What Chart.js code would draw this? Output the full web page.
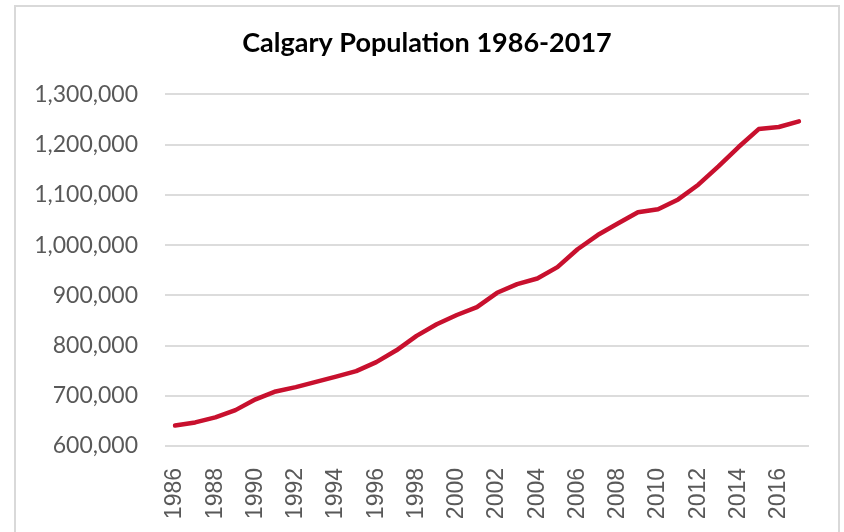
<!DOCTYPE html>
<html lang="en">

<head>
    <meta charset="UTF-8">
    <title>Calgary Population 1986-2017</title>
    <script src="https://cdn.jsdelivr.net/npm/chart.js"></script>
    <style>
        body {
            margin: 0;
            background: #ffffff;
        }

        .frame {
            position: absolute;
            left: 14px;
            top: 5px;
            width: 822px;
            height: 540px;
            border: 2px solid #d9d9d9;
        }

        #popChart {
            position: absolute;
            left: 0;
            top: 0;
        }
    </style>
</head>

<body>
    <div class="frame"></div>
    <canvas id="popChart" width="844" height="532"></canvas>

    <script>
        // data
        const years = [
            '1986', '1987', '1988', '1989', '1990', '1991', '1992', '1993',
            '1994', '1995', '1996', '1997', '1998', '1999', '2000', '2001',
            '2002', '2003', '2004', '2005', '2006', '2007', '2008', '2009',
            '2010', '2011', '2012', '2013', '2014', '2015', '2016', '2017'
        ];
        const population = [
            640645, 646927, 657118, 671453, 692885, 708593, 717133, 727719,
            738184, 749073, 767059, 790498, 819334, 842388, 860749, 876519,
            904987, 922315, 933495, 956078, 991759, 1019942, 1042892, 1065455,
            1071515, 1090936, 1120225, 1156686, 1195194, 1230915, 1235171, 1246337
        ];
        const yMin = 600000;
        const yMax = 1300000;
        const yStep = 100000;

        const ctx = document.getElementById('popChart').getContext('2d');

        const config = {
            type: 'line',
            data: {
                labels: years,
                datasets: [{
                    label: 'Population',
                    data: population,
                    borderColor: '#c8102e',
                    borderWidth: 4.5,
                    borderJoinStyle: 'round',
                    borderCapStyle: 'round',
                    pointRadius: 0,
                    tension: 0,
                    fill: false
                }]
            },
            options: {
                responsive: false,
                animation: false,
                layout: {
                    // left 10 / right 0 keeps the title centred at x=427 like the original
                    padding: { left: 10, right: 0, top: 0, bottom: 0 }
                },
                plugins: {
                    legend: { display: false },
                    tooltip: { enabled: false },
                    title: {
                        display: true,
                        text: 'Calgary Population 1986-2017',
                        color: '#000000',
                        font: { family: 'Lato', size: 27, weight: 'bold' },
                        padding: { top: 27, bottom: 35 }
                    }
                },
                scales: {
                    x: {
                        offset: true,
                        grid: { display: false },
                        border: { display: false },
                        ticks: {
                            autoSkip: false,
                            minRotation: 90,
                            maxRotation: 90,
                            padding: 14,
                            color: '#595959',
                            font: { family: 'Liberation Sans', size: 23 },
                            callback: (value, index) => index % 2 === 0 ? years[index] : ''
                        },
                        afterFit: (scale) => { scale.height = 86; }
                    },
                    y: {
                        min: yMin,
                        max: yMax,
                        grid: {
                            color: '#dcdcdc',
                            lineWidth: 2,
                            drawTicks: false
                        },
                        border: { display: false },
                        ticks: {
                            stepSize: yStep,
                            padding: 27,
                            color: '#595959',
                            font: { family: 'Lato', size: 23 },
                            callback: (value) => value.toLocaleString('en-US')
                        },
                        afterFit: (scale) => { scale.width = 155; }
                    },
                    // empty axis on the right, only to leave the blank strip beside the plot
                    yRight: {
                        position: 'right',
                        grid: { display: false },
                        border: { display: false },
                        ticks: { display: false },
                        afterFit: (scale) => { scale.width = 35; }
                    }
                }
            }
        };

        const popChart = new Chart(ctx, config);
    </script>

</body>

</html>
